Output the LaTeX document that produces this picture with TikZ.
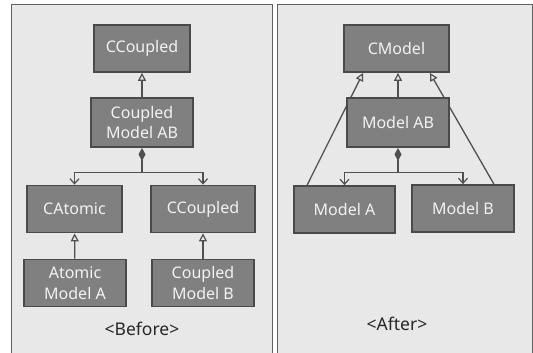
\documentclass[tikz,border=0pt]{standalone}
\usepackage{fontspec}
\setmainfont{Noto Sans}
\usetikzlibrary{arrows.meta}
\pgfdeclarelayer{bg}
\pgfdeclarelayer{lines}
\pgfsetlayers{bg,lines,main}
\definecolor{panel}{HTML}{E8E8E8}
\definecolor{panelborder}{HTML}{606060}
\definecolor{boxfill}{HTML}{808080}
\definecolor{boxborder}{HTML}{4A4A4A}
\definecolor{lineclr}{HTML}{505050}
\definecolor{txt}{HTML}{F2F2F2}
\tikzset{
  cls/.style={draw=boxborder, line width=1.8pt, fill=boxfill, text=txt,
    font=\fontsize{16}{20.5}\selectfont, align=center, inner sep=0pt,
    minimum height=47pt},
  conn/.style={draw=lineclr, line width=1.3pt},
  inh/.style={conn, -{Triangle[open, length=8pt, width=8pt, line width=1.2pt]}},
  agg/.style={conn, -{Straight Barb[length=5pt, width=9pt, line width=1.2pt]}},
  dia/.style={conn, {Diamond[length=13pt, width=7pt]}-},
  caption/.style={text=black!85, font=\fontsize{17.5}{20}\selectfont},
  panelbox/.style={fill=panel, draw=panelborder, line width=1pt}
}
\begin{document}
\begin{tikzpicture}[x=1pt, y=-1pt]
\useasboundingbox (0,0) rectangle (533,353);
\begin{pgfonlayer}{bg}
  \fill[white] (0,0) rectangle (533,353);
  \draw[panelbox] (11,5) -- (272,5) -- (272,354) -- (11,354) -- cycle;
  \draw[panelbox] (277,5) -- (532,5) -- (532,354) -- (277,354) -- cycle;
\end{pgfonlayer}

% Before
\node[cls, minimum width=96pt] (cc) at (142,48.5) {CCoupled};
\node[cls, minimum width=102pt, minimum height=49pt] (cab) at (142,122.5) {Coupled\\Model AB};
\node[cls, minimum width=95pt] (cat) at (74.5,209) {CAtomic};
\node[cls, minimum width=104pt] (cc2) at (203,209) {CCoupled};
\node[cls, minimum width=102pt] (ama) at (75,283) {Atomic\\Model A};
\node[cls, minimum width=102pt] (cmb) at (203,283) {Coupled\\Model B};
\node[caption] (before) at (142,329) {<Before>};
\coordinate (j1) at (142,172.5);

\draw[inh] (cab) -- (cc);
\draw[dia] (cab.south) -- (j1);
\draw[agg] (j1) -| (cat.north);
\draw[agg] (j1) -| (cc2.north);
\draw[inh] (ama) -- (cat);
\draw[inh] (cmb) -- (cc2);

% After
\node[cls, minimum width=105pt] (cm) at (396.5,48.5) {CModel};
\node[cls, minimum width=102pt, minimum height=49pt] (mab) at (398,122.5) {Model AB};
\node[cls, minimum width=101pt] (ma) at (344.5,209.5) {Model A};
\node[cls, minimum width=102pt] (mb) at (463,208.5) {Model B};
\node[caption] (after) at (397,324) {<After>};
\coordinate (j2) at (398,172.5);

\begin{pgfonlayer}{lines}
  \draw[inh] ([xshift=14pt]ma.north west) -- ([xshift=20pt]cm.south west);
  \draw[inh] ([xshift=-21pt]mb.north east) -- ([xshift=-20pt]cm.south east);
\end{pgfonlayer}
\draw[inh] (mab.north) -- (mab.north |- cm.south);
\draw[dia] (mab.south) -- (j2);
\draw[agg] (j2) -| (ma.north);
\draw[agg] (j2) -| (mb.north);
\end{tikzpicture}
\end{document}
